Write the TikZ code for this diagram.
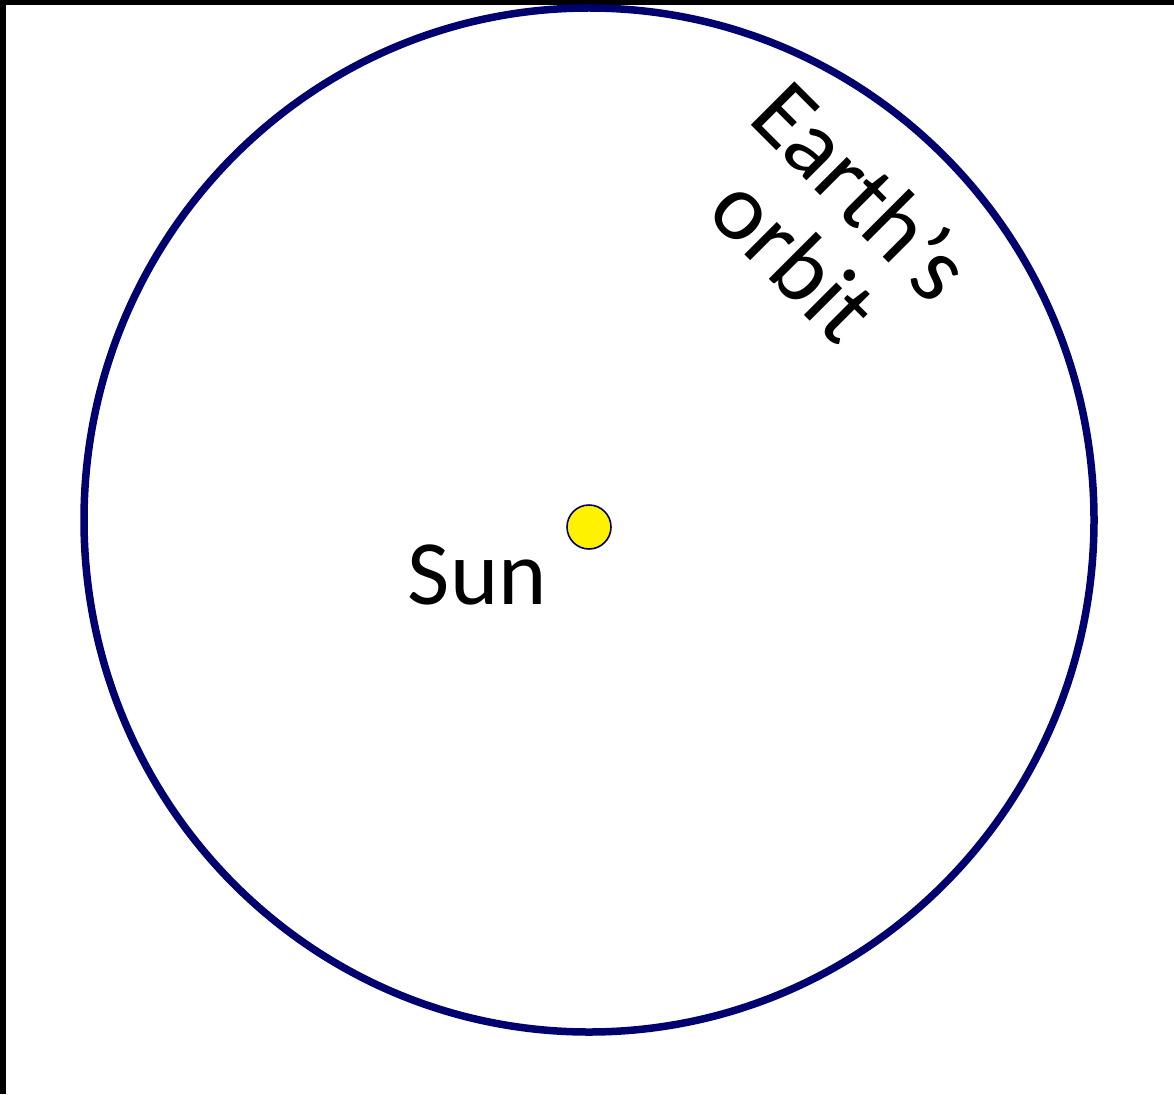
\documentclass[tikz,border=0pt]{standalone}
\usepackage{fontspec}
\setmainfont{Carlito}
\usetikzlibrary{positioning}
\definecolor{orbitblue}{RGB}{0,0,110}

\begin{document}
\begin{tikzpicture}[x=1pt,y=-1pt,
    orbit/.style={draw=orbitblue,line width=7.5pt},
    sunball/.style={circle,draw=orbitblue,line width=1.6pt,fill=yellow,minimum size=44pt,inner sep=0pt},
    label/.style={font=\fontsize{92}{95}\selectfont,inner sep=0pt}]
\useasboundingbox (0,0) rectangle (1174,1094);
\fill[white] (0,0) rectangle (1174,1094);
\fill[black] (0,0) rectangle (1174,5);
\fill[black] (0,0) rectangle (6,1094);

\draw[orbit] (589,520) ellipse [x radius=505, y radius=512];
\node[sunball] (sun) at (589,527) {};
\node[label,anchor=base east] (sunlabel) at (547,604) {Sun};
\node[label,font=\fontsize{96}{96}\selectfont,align=center,rotate=-45] (orbitlabel) at (829,224) {Earth’s\\orbit};
\end{tikzpicture}
\end{document}
